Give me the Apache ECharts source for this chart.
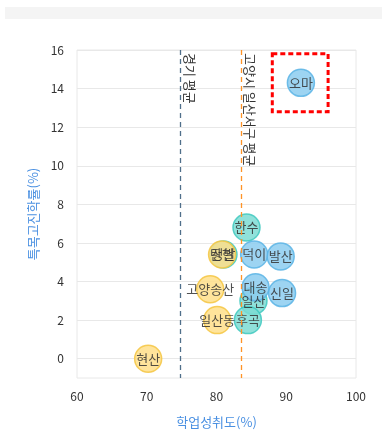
<!DOCTYPE html>
<html><head><meta charset="utf-8">
<script src="https://cdn.jsdelivr.net/npm/echarts@6/dist/echarts.min.js"></script>
<style>html,body{margin:0;padding:0;background:#fff}#c{width:382px;height:441px}</style>
</head><body><div id="c"></div>
<script>
// Data
var yellowNames = ['현산', '고양송산', '일산동', '탄현'];
var yellowX = [70.2, 79.1, 80.1, 80.8];
var yellowY = [0, 3.6, 2.0, 5.4];
var tealNames = ['한수', '일산', '후곡', '정발'];
var tealX = [84.3, 85.3, 84.5, 81.0];
var tealY = [6.8, 3.0, 2.0, 5.4];
var blueNames = ['오마', '덕이', '발산', '대송', '신일'];
var blueX = [92.1, 85.4, 89.2, 85.6, 89.4];
var blueY = [14.3, 5.4, 5.3, 3.7, 3.4];
var avgNames = ['경기 평균', '고양시 일산서구 평균'];
var avgX = [74.8, 83.5];
var yTicks = [0, 2, 4, 6, 8, 10, 12, 14, 16];
var boxX = [88, 96];
var boxY = [12.8, 15.8];

function pts(xs, ys, ns) { return xs.map(function (x, i) { return [x, ys[i], ns[i]]; }); }

var font = '"Noto Sans CJK KR", "Noto Sans", sans-serif';
var lineColors = ['#4f6f8a', '#ff9326'];
var chart = echarts.init(document.getElementById('c'));
function avgLine(i) {
  return {
    silent: true, symbol: 'none',
    lineStyle: { color: lineColors[i], type: [5, 4], width: 1.3, opacity: 1 },
    data: [[{ coord: [avgX[i], 16], name: avgNames[i] }, { coord: [avgX[i], -1] }]],
    label: { show: true, position: 'insideStartTop', formatter: '{b}', color: '#333', fontSize: 13, fontFamily: font, distance: 3 }
  };
}
function sc(name, data, fill, border, extra) {
  var s = {
    name: name, type: 'scatter', data: data, symbolSize: 27,
    itemStyle: { color: fill, borderColor: border, borderWidth: 1.5, opacity: 0.85 },
    label: { show: true, position: 'inside', formatter: function (p) { return p.data[2]; },
      color: '#333', fontSize: 13, fontFamily: font }
  };
  for (var k in extra) s[k] = extra[k];
  return s;
}
chart.setOption({
  animation: false,
  textStyle: { fontFamily: font },
  graphic: [{ type: 'rect', shape: { x: 5, y: 7, width: 377, height: 12 }, style: { fill: '#f4f4f4' } }],
  grid: { left: 77, right: 26, top: 50, bottom: 63, show: true, borderColor: '#e8e8e8', borderWidth: 1 },
  xAxis: {
    type: 'value', min: 60, max: 100, interval: 10,
    name: '학업성취도(%)', nameLocation: 'middle', nameGap: 38,
    nameTextStyle: { color: '#4a90e2', fontSize: 13, fontFamily: font },
    axisLine: { show: false }, axisTick: { show: false }, splitLine: { show: false },
    axisLabel: { color: '#333', fontSize: 12, margin: 12 }
  },
  yAxis: {
    type: 'value', min: -1, max: 16,
    name: '특목고진학률(%)', nameLocation: 'middle', nameGap: 34,
    nameTextStyle: { color: '#4a90e2', fontSize: 13, fontFamily: font },
    axisLine: { show: false },
    axisTick: { show: false, customValues: yTicks },
    axisLabel: { color: '#333', fontSize: 12, margin: 13, customValues: yTicks },
    splitLine: { show: true, lineStyle: { color: '#e8e8e8' } }
  },
  series: [
    sc('teal', pts(tealX, tealY, tealNames), '#7ddcd4', '#3fc9c0', { markLine: avgLine(0) }),
    sc('yellow', pts(yellowX, yellowY, yellowNames), '#ffdf8a', '#f5c542', { markLine: avgLine(1) }),
    sc('blue', pts(blueX, blueY, blueNames), '#8ccdf0', '#5ab4e5', {
      markArea: {
        silent: true,
        itemStyle: { color: 'rgba(0,0,0,0)', borderColor: '#ff0000', borderWidth: 3, borderType: [5, 3] },
        data: [[{ coord: [boxX[0], boxY[1]] }, { coord: [boxX[1], boxY[0]] }]]
      }
    })
  ]
});
</script></body></html>
